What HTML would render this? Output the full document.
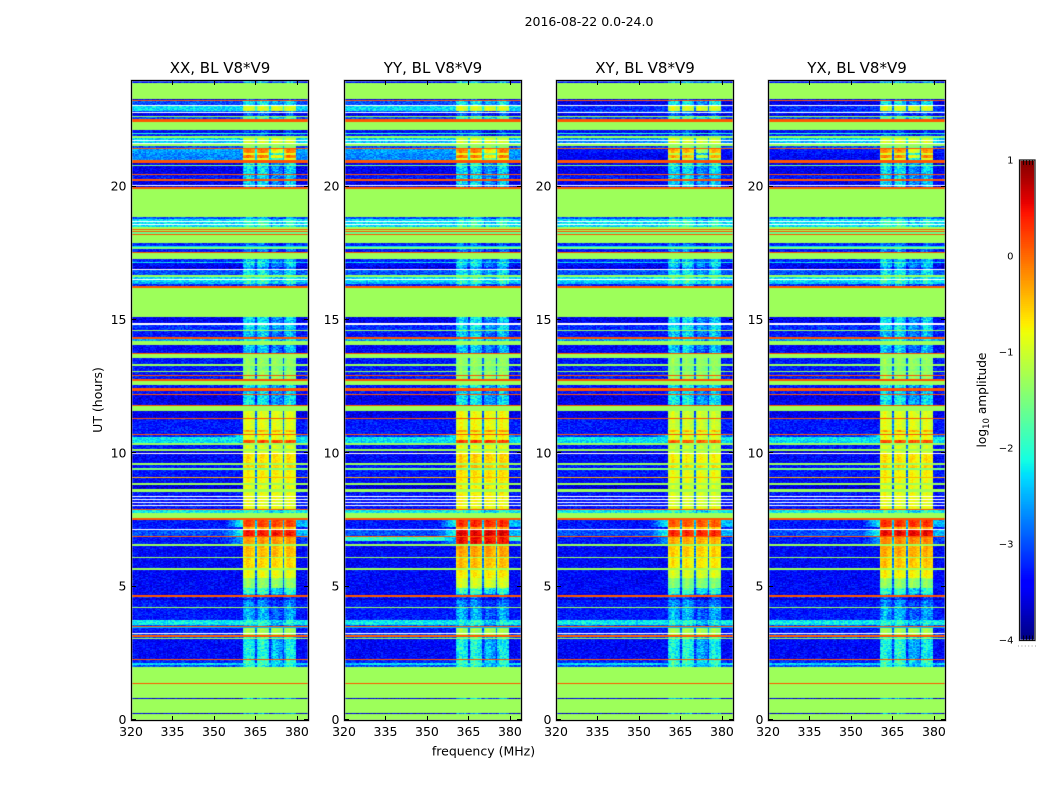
<!DOCTYPE html>
<html>
<head>
<meta charset="utf-8">
<title>2016-08-22 0.0-24.0</title>
<style>
html,body{margin:0;padding:0;background:#fff;}
#figure{position:relative;width:1050px;height:800px;overflow:hidden;background:#fff;font-family:"DejaVu Sans","Liberation Sans",sans-serif;color:#000;}
#figure canvas{position:absolute;display:block;}
#overlay{position:absolute;left:0;top:0;}
#overlay text{font-family:"DejaVu Sans","Liberation Sans",sans-serif;fill:#000;}
</style>
</head>
<body>
<div id="figure">
  <canvas id="heat-0" width="177" height="640" style="left:131px;top:80px"></canvas>
  <canvas id="heat-1" width="177" height="640" style="left:344px;top:80px"></canvas>
  <canvas id="heat-2" width="177" height="640" style="left:556px;top:80px"></canvas>
  <canvas id="heat-3" width="177" height="640" style="left:768px;top:80px"></canvas>
  <canvas id="colorbar" width="15" height="480" style="left:1020px;top:160px"></canvas>
  <svg id="overlay" width="1050" height="800" xmlns="http://www.w3.org/2000/svg">
    <text x="589" y="26" text-anchor="middle" font-size="12.5">2016-08-22 0.0-24.0</text>
    <text x="483.5" y="755.5" text-anchor="middle" font-size="12.5">frequency (MHz)</text>
    <text x="102" y="400" text-anchor="middle" font-size="12.5" transform="rotate(-90 102 400)">UT (hours)</text>
    <text x="986" y="400" text-anchor="middle" font-size="12.2" transform="rotate(-90 986 400)">log<tspan font-size="8.5" dy="3">10</tspan><tspan dy="-3"> amplitude</tspan></text>
    <line x1="1018" y1="646" x2="1036" y2="646" stroke="#999" stroke-width="1" stroke-dasharray="1 2.4"></line>
  </svg>
</div>
<script>
const panelTitles = ["XX, BL V8*V9", "YY, BL V8*V9", "XY, BL V8*V9", "YX, BL V8*V9"];
const panelNames = ["xx", "yy", "xy", "yx"];
const frequencyTicks = [320, 335, 350, 365, 380];
const hourTicks = [0, 5, 10, 15, 20];
const colorTicks = [1, 0, -1, -2, -3, -4];
const colorMinorFractions = [0.2, 0.4, 0.6, 0.8];

/* Time structure, top to bottom: the hour each segment begins at. */
const segmentTopHours = [
24.00,23.90,23.29,23.25,23.21,23.06,23.03,22.84,22.80,22.76,
22.65,22.61,22.54,22.43,22.13,22.01,21.98,21.90,21.83,21.75,
21.71,21.64,21.60,21.53,21.45,21.41,21.34,21.26,21.19,21.08,
21.00,20.89,20.81,20.78,20.48,20.42,20.27,20.23,20.06,20.03,
19.99,19.93,18.86,18.79,18.71,18.68,18.60,18.56,18.49,18.41,
18.38,18.34,18.30,18.23,18.17,17.87,17.79,17.74,17.66,17.55,
17.51,17.29,17.19,17.12,16.99,16.91,16.88,16.69,16.61,16.54,
16.50,16.44,16.41,16.35,16.28,16.20,15.11,14.89,14.83,14.63,
14.59,14.36,14.29,14.21,14.06,13.76,13.73,13.58,13.35,13.28,
13.09,13.05,12.94,12.90,12.77,12.71,12.56,12.45,12.34,12.23,
12.17,11.81,11.76,11.59,11.33,11.27,10.88,10.80,10.74,10.69,
10.61,10.50,10.37,10.31,10.16,10.09,10.01,9.98,9.64,9.56,
9.45,9.38,9.13,9.06,8.89,8.81,8.66,8.55,8.40,8.36,
8.29,8.25,8.18,8.14,8.06,8.03,7.91,7.88,7.76,7.58,
7.50,7.24,7.16,7.13,6.90,6.86,6.60,6.54,6.11,6.06,
5.70,5.64,5.33,4.95,4.73,4.69,4.61,4.58,4.50,4.24,
4.20,3.75,3.56,3.53,3.49,3.45,3.26,3.23,3.17,3.13,
3.08,3.04,2.29,2.25,2.14,2.06,1.99,1.39,1.35,0.83,
0.79,0.26,0.23];

/* log10 amplitude outside the receiver sub-bands; null means masked (white). */
const segmentBackgroundLog = [
-3.3,-1.3,-3.5,0.1,-3.0,null,-2.3,-3.0,null,-3.5,
-1.3,-3.0,0.1,-1.3,-3.4,-2.0,-3.2,-1.3,-2.4,null,
-2.4,null,-1.3,-3.0,0.1,-2.6,-2.6,-2.7,-2.7,-2.7,
0.1,-3.5,-1.5,-3.5,0.1,-3.3,0.1,-3.5,null,-3.5,
0.1,-1.3,-3.0,-2.3,null,-2.3,null,-2.3,-1.3,0.1,
-1.3,0.1,-1.6,0.1,-1.3,-3.2,-2.3,-1.5,-3.3,0.1,
-1.3,-3.2,-2.3,-3.4,-3.6,null,-3.0,-1.3,-2.3,null,
-2.3,null,-2.5,-3.2,0.1,-1.3,-3.5,null,-3.2,-1.3,
-3.3,0.1,-2.6,-1.3,-3.4,0.1,-1.3,-3.3,-1.3,-3.3,
-1.3,-3.3,0.1,-3.3,0.1,-1.3,-3.3,0.1,-3.3,0.1,
-3.5,0.1,-1.3,-3.5,0.1,-3.3,-3.3,-3.3,0.1,-3.2,
-2.2,-2.3,-1.3,-3.3,-1.3,-3.6,null,-3.4,-1.3,-3.3,
-1.5,-3.3,-0.4,-3.4,-1.3,-3.6,-1.3,-3.3,null,-3.3,
null,-3.3,null,-3.3,null,-3.3,0.1,-2.2,-1.3,0.1,
-3.3,-3.3,null,-3.0,0.1,-3.3,-1.3,-3.4,-1.3,-3.4,
-1.3,-3.4,-3.4,-3.4,-3.5,0.1,-3.2,-3.6,-3.3,-1.3,
-3.3,-2.2,-3.0,0.1,-2.5,-3.3,null,-3.0,0.1,-3.0,
-1.3,-3.4,0.1,-3.2,-2.3,-3.0,-1.3,0.1,-1.3,-3.6,
-1.3,-3.6,-1.3];

/* log10 amplitude inside the four receiver sub-bands. */
const segmentChannelLog = [
-2.6,-1.3,-3.2,0.1,-2.3,null,-1.0,-2.6,null,-3.0,
-1.3,-1.9,0.1,-1.3,-3.2,-2.0,-3.0,-1.3,-1.05,null,
-1.0,null,-1.3,-1.5,0.1,-0.1,-0.2,-0.9,-0.1,-0.9,
0.1,-2.3,-1.5,-2.4,0.1,-2.4,0.1,-2.4,null,-2.4,
0.1,-1.3,-2.7,-2.0,null,-2.0,null,-2.0,-1.3,0.1,
-1.3,0.1,-1.6,0.1,-1.3,-3.0,-2.3,-1.5,-2.8,0.1,
-1.3,-2.5,-2.0,-2.4,-2.8,null,-2.3,-1.3,-2.0,null,
-2.0,null,-2.0,-2.8,0.1,-1.3,-2.4,null,-2.3,-1.3,
-2.5,0.1,-2.2,-1.3,-2.5,0.1,-1.3,-1.4,-1.3,-1.5,
-1.3,-1.4,0.1,-1.4,0.1,-1.3,-2.3,0.1,-2.4,0.1,
-2.3,0.1,-1.3,-0.95,0.1,-0.95,-0.4,-0.95,0.1,-0.85,
-0.9,0.1,-1.3,-1.0,-1.3,-1.0,null,-0.7,-1.3,-0.6,
-1.5,-0.8,-0.4,-0.85,-1.3,-0.9,-1.3,-0.9,null,-0.9,
null,-0.9,null,-1.0,null,-0.9,0.1,-2.0,-1.3,0.1,
0.15,-0.5,null,0.4,0.1,-0.3,-1.3,-0.5,-1.3,-0.65,
-1.3,-0.9,-1.4,-2.0,-2.5,0.1,-3.0,-3.2,-2.8,-1.3,
-2.6,-2.1,-2.6,0.1,-2.5,-1.3,null,-1.3,0.1,-2.0,
-1.3,-2.2,0.1,-2.0,-2.0,-2.2,-1.3,0.1,-1.3,-2.7,
-1.3,-2.8,-1.3];

/* Receiver sub-band edges in MHz. */
const subbandStartMHz = [360.5, 365.6, 370.6, 375.7];
const subbandEndMHz = [364.9, 370.0, 374.9, 379.7];
const subbandFaintOffset = [0.05, 0.1, -0.35, 0.0];

/* Panel-specific changes, one entry per column position. A subband of -1 means all four. */
const adjustPanel =      [0,     1,     1,    1,    1,    2,     2,     2,     2,    2,    2,    3,     3,     3,    3,    3,    2,     3,     1,    1];
const adjustTopHour =    [21.45, 21.45, 7.5,  6.86, 5.33, 23.25, 21.45, 21.45, 11.6, 7.5,  21.9, 23.25, 21.45, 21.45, 11.6, 7.5,  23.03, 23.03, 6.86, 11.6];
const adjustBottomHour = [21.00, 21.00, 5.0,  6.70, 4.90, 23.06, 21.00, 21.00, 8.0,  5.0,  21.5, 23.06, 21.00, 21.00, 8.0,  5.3,  22.84, 22.84, 6.60, 8.0];
const adjustBackground = [0,     0,     0,    1.4,  0,    -0.5,  -0.75, 0,     0,    0,    -0.3, -0.5,  -0.7,  0,     0,    0,    -0.9,  -0.9,  0,    0];
const adjustChannel =    [0,     0,     0.15, 0,    0.25, 0,     0,     -0.3,  -0.1, -0.1, 0,    0,     0,     -0.1,  0,    0.1,  0,     0,     0.6,  0.1];
const adjustChannelLow = [-0.7,  -0.6,  0,    0,    0,    0,     0,     -0.8,  0,    0,    0,    0,     0,     -0.7,  0,    0,    0,     0,     0,    0];
const adjustSubband =    [2,     2,     -1,   -1,   -1,   -1,    -1,    -1,    -1,   -1,   -1,   -1,    -1,    -1,    -1,   -1,   -1,    -1,    -1,   -1];

/* Leakage either side of the sub-bands during the strongest rows. */
const shoulderTopHour = [10.69, 7.50, 7.13, 6.86];
const shoulderBottomHour = [10.37, 7.24, 6.90, 6.60];
const shoulderLog = [-2.3, -2.0, -2.0, -2.6];

/* Shape across a sub-band, and a hand-typed speckle table that gives the noisy texture. */
const channelShape = [-0.2, 0.0, 0.1, 0.15, 0.1, 0.05, 0.0, -0.05, -0.1, -0.2];
const speckleTable = [
0.3,-0.7,0.9,-0.2,-0.9,0.5,0.1,-0.4,0.8,-0.6,
-0.1,0.7,-0.8,0.4,0.2,-1.0,0.6,-0.3,1.0,-0.5,
0.0,0.8,-0.9,0.3,-0.2,0.6,-0.7,0.9,-0.4,0.1,
-0.6,0.5,0.2,-0.8,1.0,-0.1,-0.5,0.7,-0.3,0.4,
-1.0,0.2,0.6,-0.7,0.0,0.9,-0.4,-0.2,0.8,-0.9,
0.3,-0.6,0.5,0.1,-0.8,0.7,-0.1,0.4,-0.5,1.0,
-0.3,0.2,-0.9,0.6,-0.2,0.8,-0.7,0.0,0.3,-0.4,
0.9,-1.0,0.5,-0.1,0.7,-0.6,0.2,-0.3,0.4,-0.8,
1.0,-0.5,0.1,0.6,-0.9,0.3,-0.2,0.8,-0.4,0.0,
-0.7,0.5,0.9,-0.6,0.2,-0.1,0.7,-0.8,0.4,-0.3,0.6];

const frequencyMin = 320, frequencyMax = 384, hourMin = 0, hourMax = 24;
const colorMin = -4, colorMax = 1;
const panelLefts = [131, 344, 556, 768];
const panelWidth = 177, panelTop = 80, panelHeight = 640;
const frequencyStep = 0.5, hourStep = 0.0375;

function xScale(frequency, left) { return left + (frequency - frequencyMin) / (frequencyMax - frequencyMin) * panelWidth; }
function yScale(hour) { return panelTop + (hourMax - hour) / (hourMax - hourMin) * panelHeight; }
function piecewise(xs, ys, t) {
  for (let i = 1; i < xs.length; i++) {
    if (t <= xs[i]) return ys[i - 1] + (ys[i] - ys[i - 1]) * (t - xs[i - 1]) / (xs[i] - xs[i - 1]);
  }
  return ys[ys.length - 1];
}
function jet(t) {
  const r = piecewise([0, .35, .66, .89, 1], [0, 0, 1, 1, .5], t);
  const g = piecewise([0, .125, .375, .64, .91, 1], [0, 0, 1, 1, 0, 0], t);
  const b = piecewise([0, .11, .34, .65, 1], [.5, 1, 1, 0, 0], t);
  return "rgb(" + Math.round(r * 255) + "," + Math.round(g * 255) + "," + Math.round(b * 255) + ")";
}
const colorTable = [];
for (let i = 0; i < 256; i++) colorTable.push(jet(i / 255));
function colorFor(value) {
  if (value === null) return "#ffffff";
  const t = Math.max(0, Math.min(1, (value - colorMin) / (colorMax - colorMin)));
  return colorTable[Math.round(t * 255)];
}
function segmentAt(hour) {
  for (let i = 0; i < segmentTopHours.length; i++) {
    const below = i + 1 < segmentTopHours.length ? segmentTopHours[i + 1] : hourMin;
    if (hour <= segmentTopHours[i] && hour > below) return i;
  }
  return segmentTopHours.length - 1;
}
function subbandAt(frequency) {
  for (let s = 0; s < subbandStartMHz.length; s++) {
    if (frequency >= subbandStartMHz[s] && frequency < subbandEndMHz[s]) return s;
  }
  return -1;
}
function cellValue(panel, hour, frequency, rowIndex, colIndex) {
  const seg = segmentAt(hour);
  let bg = segmentBackgroundLog[seg];
  let ch = segmentChannelLog[seg];
  if (bg === null) return null;
  const uniform = bg === ch;
  if (uniform) return bg;
  const sub = subbandAt(frequency);
  for (let a = 0; a < adjustPanel.length; a++) {
    if (adjustPanel[a] === panel && hour <= adjustTopHour[a] && hour > adjustBottomHour[a]) {
      bg += adjustBackground[a];
      ch += adjustChannel[a];
      if (adjustSubband[a] === sub) ch += adjustChannelLow[a];
      if (adjustSubband[a] < 0 && sub === 2) ch += adjustChannelLow[a];
    }
  }
  const speckleIndex = (rowIndex * rowIndex * 3 + colIndex * colIndex * 5 + rowIndex * colIndex * 7 + panel * 11) % speckleTable.length;
  const speck = speckleTable[speckleIndex];
  if (sub >= 0) {
    const shapeIndex = Math.floor((frequency - subbandStartMHz[sub]) / (subbandEndMHz[sub] - subbandStartMHz[sub]) * channelShape.length);
    const faint = ch < -1.5;
    const amp = faint ? 0.38 : 0.16;
    return ch + channelShape[shapeIndex] + (faint ? subbandFaintOffset[sub] : 0) + speck * amp;
  }
  let value = bg;
  const inGap = frequency >= subbandStartMHz[0] && frequency < subbandEndMHz[3];
  if (inGap) value = bg + (ch - bg) * 0.22;
  for (let s = 0; s < shoulderLog.length; s++) {
    if (hour <= shoulderTopHour[s] && hour > shoulderBottomHour[s]) {
      if (frequency >= 354 && frequency < subbandStartMHz[0]) {
        const t = (frequency - 354) / (subbandStartMHz[0] - 354);
        value = bg + (shoulderLog[s] - bg) * t;
      }
      if (frequency >= subbandEndMHz[3]) value = Math.max(bg, shoulderLog[s] - 0.5);
    }
  }
  return value + speck * 0.3;
}
function drawHeatmap(panel) {
  const canvas = document.getElementById("heat-" + panel);
  const ctx = canvas.getContext("2d");
  const rows = Math.round((hourMax - hourMin) / hourStep);
  const cols = Math.round((frequencyMax - frequencyMin) / frequencyStep);
  for (let r = 0; r < rows; r++) {
    const hourTop = hourMax - r * hourStep;
    const y0 = Math.round(yScale(hourTop)) - panelTop;
    const y1 = Math.round(yScale(hourTop - hourStep)) - panelTop;
    for (let c = 0; c < cols; c++) {
      const f = frequencyMin + c * frequencyStep;
      const x0 = Math.round(xScale(f, 0));
      const x1 = Math.round(xScale(f + frequencyStep, 0));
      ctx.fillStyle = colorFor(cellValue(panel, hourTop - hourStep / 2, f + frequencyStep / 2, r, c));
      ctx.fillRect(x0, y0, x1 - x0, y1 - y0);
    }
  }
}
function drawColorbar() {
  const ctx = document.getElementById("colorbar").getContext("2d");
  for (let y = 0; y < 480; y++) {
    const value = colorMax - (y + 0.5) / 480 * (colorMax - colorMin);
    ctx.fillStyle = colorFor(value);
    ctx.fillRect(0, y, 15, 1);
  }
}
const svgNS = "http://www.w3.org/2000/svg";
const overlay = document.getElementById("overlay");
function addLine(x1, y1, x2, y2, color, width) {
  const line = document.createElementNS(svgNS, "line");
  line.setAttribute("x1", x1);
  line.setAttribute("y1", y1);
  line.setAttribute("x2", x2);
  line.setAttribute("y2", y2);
  line.setAttribute("stroke", color);
  line.setAttribute("stroke-width", width);
  overlay.appendChild(line);
  return line;
}
function addText(x, y, anchor, size, content) {
  const text = document.createElementNS(svgNS, "text");
  text.setAttribute("x", x);
  text.setAttribute("y", y);
  text.setAttribute("text-anchor", anchor);
  text.setAttribute("font-size", size);
  text.textContent = content;
  overlay.appendChild(text);
  return text;
}
function drawAxes(panel) {
  const left = panelLefts[panel];
  const name = panelNames[panel];
  const frameHalo = document.createElementNS(svgNS, "rect");
  
  
  frameHalo.setAttribute("x", left + 0.5);
  frameHalo.setAttribute("y", panelTop + 0.5);
  frameHalo.setAttribute("width", panelWidth);
  frameHalo.setAttribute("height", panelHeight);
  frameHalo.setAttribute("fill", "none");
  frameHalo.setAttribute("stroke", "#9a9a9a");
  frameHalo.setAttribute("stroke-width", "1.8");
  overlay.appendChild(frameHalo);
  const frame = document.createElementNS(svgNS, "rect");
  
  
  frame.setAttribute("x", left + 0.5);
  frame.setAttribute("y", panelTop + 0.5);
  frame.setAttribute("width", panelWidth);
  frame.setAttribute("height", panelHeight);
  frame.setAttribute("fill", "none");
  frame.setAttribute("stroke", "#000");
  frame.setAttribute("stroke-width", "1");
  overlay.appendChild(frame);
  const title = addText(left + panelWidth / 2 + 0.5, 73, "middle", 15, panelTitles[panel]);
  
  
  frequencyTicks.forEach(function (tick) {
    const x = Math.round(xScale(tick, left)) + 0.5;
    const bottomTick = addLine(x, panelTop + panelHeight, x, panelTop + panelHeight - 4, "#000", 1);
    
    
    const topTick = addLine(x, panelTop + 1, x, panelTop + 5, "#000", 1);
    
    
    const label = addText(xScale(tick, left), 736, "middle", 12.5, String(tick));
    
    
  });
  hourTicks.forEach(function (tick) {
    const y = Math.round(yScale(tick)) - 0.5;
    const leftTick = addLine(left + 1, y, left + 5, y, "#000", 1);
    
    
    const rightTick = addLine(left + panelWidth - 4, y, left + panelWidth, y, "#000", 1);
    
    
    const label = addText(left - 4.5, yScale(tick) + 4, "end", 12.5, String(tick));
    
    
  });
}
function drawColorbarAxis() {
  const left = 1019.5, top = 160, width = 15.5, height = 480.5;
  const halo = document.createElementNS(svgNS, "rect");
  
  
  halo.setAttribute("x", left);
  halo.setAttribute("y", top);
  halo.setAttribute("width", width);
  halo.setAttribute("height", height);
  halo.setAttribute("fill", "none");
  halo.setAttribute("stroke", "#bdbdbd");
  halo.setAttribute("stroke-width", "1.8");
  overlay.appendChild(halo);
  const frame = document.createElementNS(svgNS, "rect");
  
  
  frame.setAttribute("x", left);
  frame.setAttribute("y", top);
  frame.setAttribute("width", width);
  frame.setAttribute("height", height);
  frame.setAttribute("fill", "none");
  frame.setAttribute("stroke", "#000");
  frame.setAttribute("stroke-width", "0.9");
  overlay.appendChild(frame);
  colorMinorFractions.forEach(function (fraction) {
    const x = Math.round(left + width * fraction) + 0.5;
    const upper = addLine(x, top, x, top + 5, "#000", 0.8);
    
    
    const lower = addLine(x, top + height - 5, x, top + height, "#000", 0.8);
    
    
  });
  colorTicks.forEach(function (tick) {
    const y = top + (colorMax - tick) / (colorMax - colorMin) * 480;
    const content = tick < 0 ? "\u2212" + Math.abs(tick) : String(tick);
    const label = addText(1013.5, y + 3.5, "end", 10, content);
    
    
  });
}
for (let p = 0; p < panelLefts.length; p++) {
  drawHeatmap(p);
  drawAxes(p);
}
drawColorbar();
drawColorbarAxis();
</script>
</body>
</html>
